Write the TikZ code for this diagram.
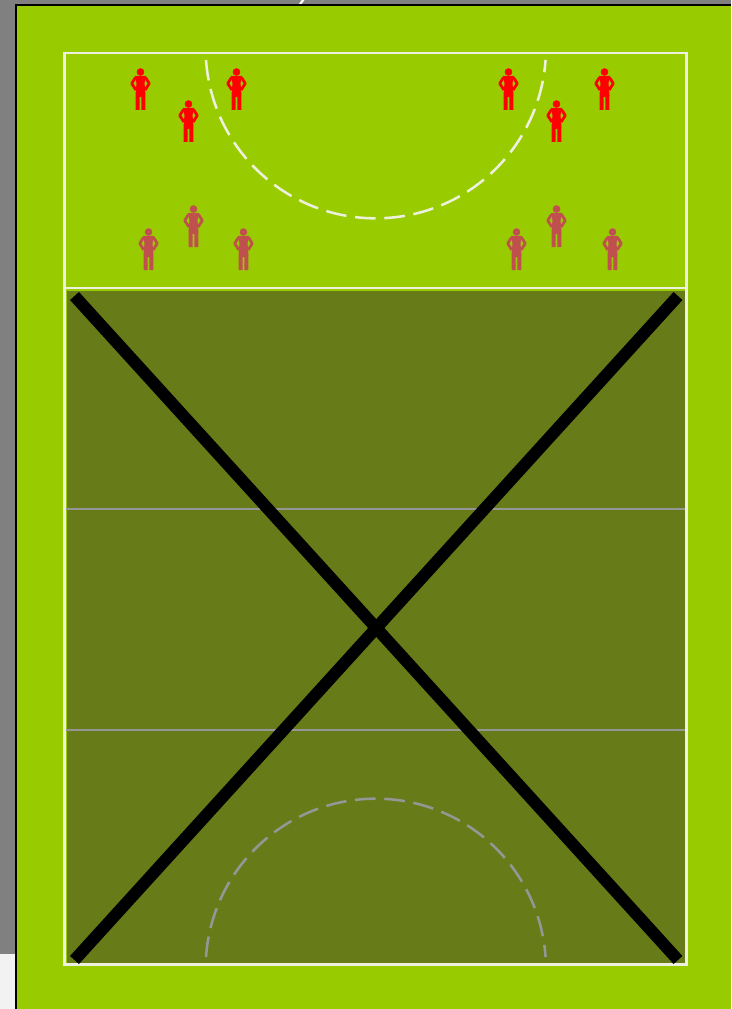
\documentclass[tikz,border=0pt]{standalone}
\definecolor{PageGrey}{RGB}{128,128,128}
\definecolor{PalePage}{RGB}{242,242,242}
\definecolor{FieldGreen}{RGB}{153,204,0}
\definecolor{DarkField}{RGB}{103,124,24}
\definecolor{LineWhite}{RGB}{236,240,220}
\definecolor{LineGrey}{RGB}{150,150,150}
\definecolor{FadedRed}{RGB}{192,80,77}
\usetikzlibrary{calc}

\tikzset{
  x=0.75pt, y=-0.75pt,
  courtline/.style={draw=LineWhite, line width=1.7pt},
  thinline/.style={draw=LineGrey, line width=1.2pt},
  arcdash/.style={dash pattern=on 15.5pt off 6.5pt, line width=1.9pt},
  crossbar/.style={draw=black, line width=9pt},
  pics/player/.style={code={
    \fill[#1] (0,0) circle (3.8);
    \fill[#1] (-5.6,4) -- (5.6,4) -- (4,11) -- (5,23) -- (4.8,38) -- (0.8,38) -- (0.8,25)
      -- (-0.8,25) -- (-0.8,38) -- (-4.8,38) -- (-5,23) -- (-4,11) -- cycle;
    \draw[#1, line width=2.1pt, line join=round] (-5,5.5) -- (-8.8,11.5) -- (-4.6,18);
    \draw[#1, line width=2.1pt, line join=round] (5,5.5) -- (8.8,11.5) -- (4.6,18);
  }}
}

\begin{document}
\begin{tikzpicture}
\useasboundingbox (0,0) rectangle (731,1009);
% page behind the field
\fill[PalePage] (0,0) rectangle (731,1009);
\fill[PageGrey] (0,0) rectangle (731,954);
\draw[white, line width=1.6pt] (304,-1) -- (300,4);
\fill[black] (15,4) rectangle (731,1009);
\fill[FieldGreen] (17,6) rectangle (731,1009);

\coordinate (courtNW) at (64.5,53);
\coordinate (courtSE) at (686.5,964.5);
\coordinate (midL) at (64.5,288);
\coordinate (midR) at (686.5,288);

% blocked half
\fill[DarkField] (67,291) rectangle (685,963);
\draw[thinline] (64.5,509) -- (686.5,509);
\draw[thinline] (64.5,730) -- (686.5,730);
\draw[thinline, arcdash] (206,957) arc[start angle=184, end angle=356, radius=170.2];

% court
\draw[courtline] (courtNW) rectangle (courtSE);
\draw[courtline] (midL) -- (midR);
\draw[courtline, arcdash] (206,60) arc[start angle=176, end angle=4, radius=170.2];

% cross
\coordinate (crossA) at (74.5,296);
\coordinate (crossB) at (678,960);
\coordinate (crossC) at (678,296);
\coordinate (crossD) at (74.5,960);
\draw[crossbar] (crossA) -- (crossB);
\draw[crossbar] (crossC) -- (crossD);

% players
\foreach \px/\py in {140.5/72, 188.5/104, 236.5/72, 508.5/72, 556.5/104, 604.5/72}
  \pic at (\px,\py) {player=red};
\foreach \px/\py in {148.5/232, 193.5/209, 243.5/232, 516.5/232, 556.5/209, 612.5/232}
  \pic at (\px,\py) {player=FadedRed};
\end{tikzpicture}
\end{document}
